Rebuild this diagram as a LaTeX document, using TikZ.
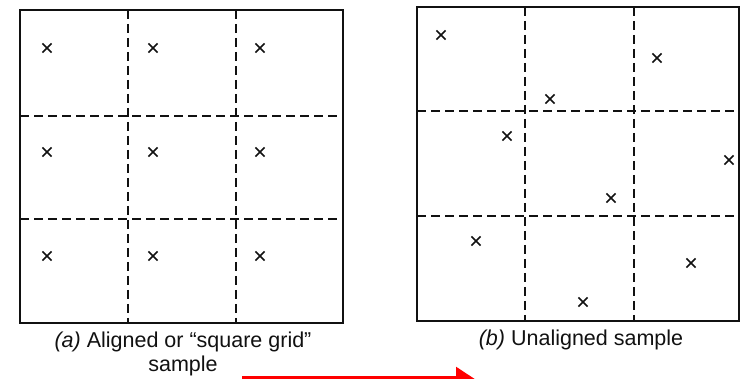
\documentclass[tikz,border=0pt]{standalone}
\usepackage{fontspec}
\setmainfont{Liberation Sans}
\usetikzlibrary{arrows.meta,calc,positioning,shapes.misc}
\definecolor{Ink}{HTML}{111111}
\definecolor{Mark}{HTML}{FF0000}

\tikzset{
  frame/.style={Ink,line width=2.4pt},
  cellline/.style={Ink,line width=1.8pt,dash pattern=on 9pt off 5pt},
  samplept/.style={cross out,draw=Ink,line width=1.6pt,minimum size=7.5pt,inner sep=0pt},
  caption/.style={font=\fontsize{21.5}{24}\selectfont,text=Ink,align=center}
}

\begin{document}
\begin{tikzpicture}[x=1pt,y=-1pt]
        \clip (0,0) rectangle (756,379);
        \fill[white] (0,0) rectangle (756,379);
        % (a) aligned grid
        \draw[frame] (20,10) rectangle (343,323);
        \foreach \x in {128,236}{
          \draw[cellline] (\x,10) -- (\x,323);
        }
        \foreach \y in {116,219}{
          \draw[cellline] (20,\y) -- (343,\y);
        }
        \foreach \x [count=\i] in {47,153,260}{
          \foreach \y [count=\j] in {48,152,256}{
            \node[samplept] (a\i\j) at (\x,\y) {};
          }
        }
        \node[caption] (capA) at (183,354) {\textit{(a)} Aligned or ``square grid''\\sample};
        % (b) unaligned
        \draw[frame] (417,7) rectangle (739,321);
        \foreach \x in {525,634}{
          \draw[cellline] (\x,7) -- (\x,321);
        }
        \foreach \y in {111,216}{
          \draw[cellline] (417,\y) -- (739,\y);
        }
        \foreach \x/\y [count=\i] in {441/35,657/58,550/99,507/136,729/160,611/198,476/241,691/263,583/302}{
          \node[samplept] (b\i) at (\x,\y) {};
        }
        \node[caption] (capB) at (581,340) {\textit{(b)} Unaligned sample};
        % red pointer along the bottom edge
        \coordinate (arrS) at (242,381);
        \coordinate (arrE) at (478,381);
        \draw[Mark,line width=9pt,-{Triangle[length=22pt,width=27pt]}] (arrS) -- (arrE);
      \end{tikzpicture}
\end{document}
